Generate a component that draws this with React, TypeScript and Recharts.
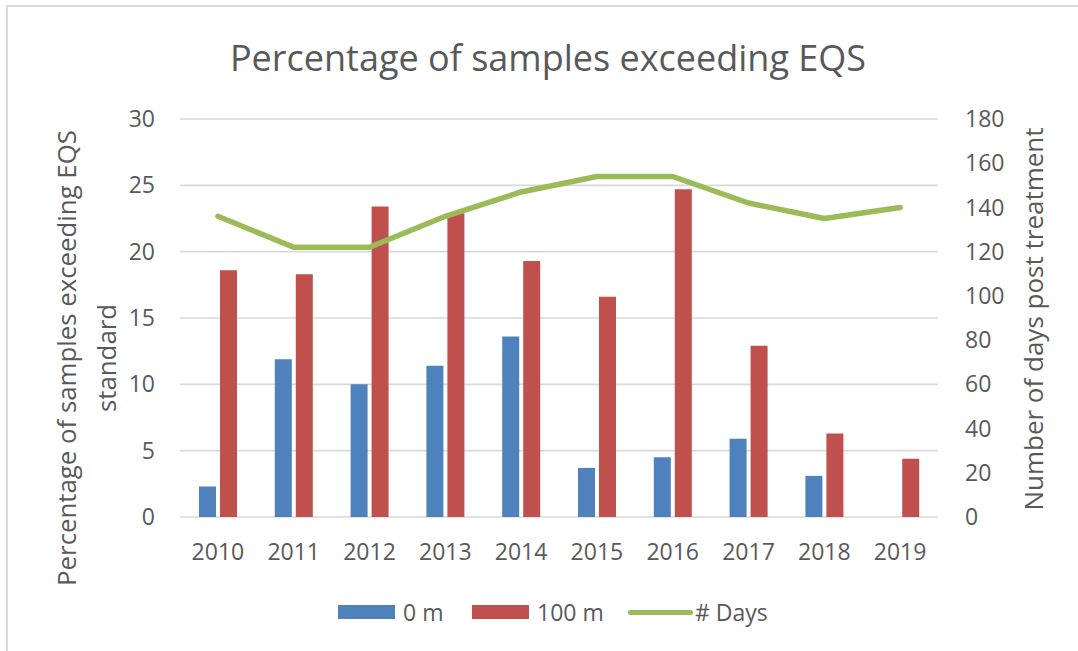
import React from "react";
import {
  ComposedChart,
  Bar,
  Line,
  XAxis,
  YAxis,
  CartesianGrid,
} from "recharts";

const years = ["2010", "2011", "2012", "2013", "2014", "2015", "2016", "2017", "2018", "2019"];
const zeroM = [2.3, 11.9, 10.0, 11.4, 13.6, 3.7, 4.5, 5.9, 3.1, null];
const hundredM = [18.6, 18.3, 23.4, 22.9, 19.3, 16.6, 24.7, 12.9, 6.3, 4.4];
const days = [136, 122, 122, 136, 147, 154, 154, 142, 135, 140];
const leftTicks = [0, 5, 10, 15, 20, 25, 30];
const rightTicks = [0, 20, 40, 60, 80, 100, 120, 140, 160, 180];

const data = years.map((y, i) => ({
  year: y,
  zero: zeroM[i],
  hundred: hundredM[i],
  days: days[i],
}));

const FONT = "'Open Sans', sans-serif";
const TEXT = "#595959";
const BLUE = "#4F81BD";
const RED = "#C0504D";
const GREEN = "#9BBB59";

const LeftTitle = (props: any) => {
  const vb = props.viewBox || { x: 0, y: 119, width: 180, height: 398 };
  const cy = vb.y + vb.height / 2 + 40;
  const x1 = vb.x + 76;
  const x2 = vb.x + 116;
  return (
    <g>
      <text
        x={x1}
        y={cy}
        transform={`rotate(-90 ${x1} ${cy})`}
        textAnchor="middle"
        fill={TEXT}
        fontSize={25.8}
        fontFamily={FONT}
      >
        Percentage of samples exceeding EQS
      </text>
      <text
        x={x2}
        y={cy}
        transform={`rotate(-90 ${x2} ${cy})`}
        textAnchor="middle"
        fill={TEXT}
        fontSize={25.8}
        fontFamily={FONT}
      >
        standard
      </text>
    </g>
  );
};

const RightTitle = (props: any) => {
  const vb = props.viewBox || { x: 938, y: 119, width: 140, height: 398 };
  const cy = vb.y + vb.height / 2 + 1;
  const x = vb.x + 105;
  return (
    <text
      x={x}
      y={cy}
      transform={`rotate(-90 ${x} ${cy})`}
      textAnchor="middle"
      fill={TEXT}
      fontSize={26}
      fontFamily={FONT}
    >
      Number of days post treatment
    </text>
  );
};

const legendItems = [
  { name: "0 m", color: BLUE, kind: "rect", left: 338 },
  { name: "100 m", color: RED, kind: "rect", left: 472 },
  { name: "# Days", color: GREEN, kind: "line", left: 628 },
];

export default function App() {
  return (
    <div
      style={{
        position: "absolute",
        left: 0,
        top: 0,
        width: 1078,
        height: 651,
        background: "#fff",
        fontFamily: FONT,
      }}
    >
      <div
        style={{
          position: "absolute",
          left: 6,
          top: 5,
          right: 0,
          bottom: 0,
          borderTop: "2.5px solid #d9d9d9",
          borderLeft: "2.5px solid #d9d9d9",
        }}
      />
      <div
        style={{
          position: "absolute",
          left: 0,
          width: 1096,
          top: 33,
          textAlign: "center",
          fontSize: 36,
          color: TEXT,
          lineHeight: "50px",
        }}
      >
        Percentage of samples exceeding EQS
      </div>
      <div style={{ position: "absolute", left: 0, top: 0 }}>
        <ComposedChart
          width={1078}
          height={651}
          data={data}
          margin={{ top: 119, right: 0, bottom: 94, left: 0 }}
          barGap={4}
          barSize={17}
        >
          <CartesianGrid
            yAxisId="left"
            vertical={false}
            stroke="#d9d9d9"
            strokeWidth={1.6}
          />
          <XAxis
            dataKey="year"
            height={40}
            axisLine={false}
            tickLine={false}
            tickSize={0}
            tickMargin={27}
            tick={{ fill: TEXT, fontSize: 23, fontFamily: FONT }}
            interval={0}
          />
          <YAxis
            yAxisId="left"
            width={180}
            domain={[0, 30]}
            ticks={leftTicks}
            axisLine={false}
            tickLine={false}
            tickSize={0}
            tickMargin={25}
            tick={{ fill: TEXT, fontSize: 23, fontFamily: FONT }}
            label={(p: any) => <LeftTitle {...p} />}
          />
          <YAxis
            yAxisId="right"
            orientation="right"
            width={140}
            domain={[0, 180]}
            ticks={rightTicks}
            axisLine={false}
            tickLine={false}
            tickSize={0}
            tickMargin={27}
            tick={{ fill: TEXT, fontSize: 23, fontFamily: FONT }}
            label={(p: any) => <RightTitle {...p} />}
          />
          <Bar yAxisId="left" dataKey="zero" name="0 m" fill={BLUE} isAnimationActive={false} />
          <Bar yAxisId="left" dataKey="hundred" name="100 m" fill={RED} isAnimationActive={false} />
          <Line
            yAxisId="right"
            dataKey="days"
            name="# Days"
            type="linear"
            stroke={GREEN}
            strokeWidth={5.5}
            strokeLinecap="round"
            strokeLinejoin="round"
            dot={false}
            activeDot={false}
            isAnimationActive={false}
          />
        </ComposedChart>
      </div>
      {legendItems.map((it) => (
        <div
          key={it.name}
          style={{
            position: "absolute",
            left: it.left,
            top: 597,
            height: 30,
            display: "flex",
            alignItems: "center",
            fontSize: 23,
            color: TEXT,
          }}
        >
          {it.kind === "rect" ? (
            <div style={{ width: 57, height: 14, background: it.color, marginRight: 8 }} />
          ) : (
            <div
              style={{
                width: 65,
                height: 5,
                borderRadius: 3,
                background: it.color,
                marginRight: 2,
              }}
            />
          )}
          <span>{it.name}</span>
        </div>
      ))}
    </div>
  );
}
